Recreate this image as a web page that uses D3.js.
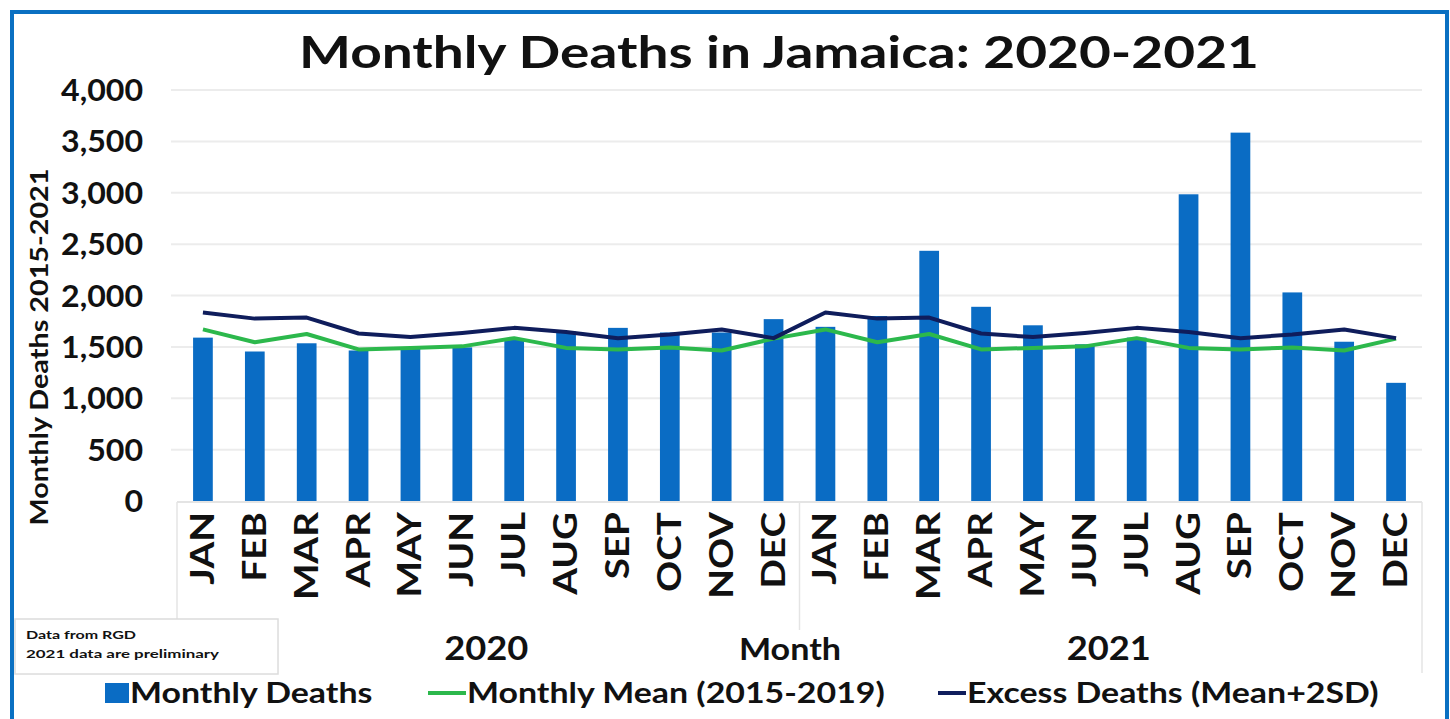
<!DOCTYPE html>
<html>
<head>
<meta charset="utf-8">
<script src="https://cdn.jsdelivr.net/npm/d3@7/dist/d3.min.js"></script>
<style>
  body { margin: 0; background: #fff; }
  svg text { font-family: Lato, "Open Sans", sans-serif; font-weight: bold; fill: #111; }
</style>
</head>
<body>
<div id="container"></div>
<script>
// months shown on the category axis (repeated for each year)
var months = ["JAN","FEB","MAR","APR","MAY","JUN","JUL","AUG","SEP","OCT","NOV","DEC"];
var years = ["2020","2021"];

// monthly deaths
var deaths2020 = [1590,1455,1535,1465,1485,1495,1575,1650,1685,1640,1640,1770];
var deaths2021 = [1695,1800,2435,1890,1710,1525,1590,2985,3585,2030,1550,1150];

// 2015-2019 baseline, same for both years
var monthlyMean = [1670,1545,1625,1475,1490,1505,1585,1490,1475,1495,1465,1580];
var excessLine  = [1835,1775,1785,1630,1595,1635,1685,1645,1585,1620,1670,1585];

var yTicks = [0,500,1000,1500,2000,2500,3000,3500,4000];

var W = 1450, H = 719;
var margin = {left: 177, right: 28, top: 90, bottom: 218};

// the source picture is a bit wide, so text gets stretched along its baseline
function stretch(sel, factor) {
    sel.each(function() {
        var len = this.getComputedTextLength();
        d3.select(this).attr("textLength", len * factor).attr("lengthAdjust", "spacingAndGlyphs");
    });
}

// build flat rows for 24 categories
var rows = [];
years.forEach(function(yr, yi) {
    var vals = yi === 0 ? deaths2020 : deaths2021;
    months.forEach(function(m, mi) {
        rows.push({key: yr + "-" + m, month: m, year: yr, deaths: vals[mi], mean: monthlyMean[mi], excess: excessLine[mi]});
    });
});

var svg = d3.select("#container").append("svg")
    .attr("width", W).attr("height", H);

// outer blue frame
svg.append("rect")
    .attr("x", 12).attr("y", 12)
    .attr("width", W - 15).attr("height", H + 20)
    .attr("fill", "none")
    .attr("stroke", "#0a70c2")
    .attr("stroke-width", 4);

var x = d3.scaleBand()
    .domain(rows.map(function(d) { return d.key; }))
    .range([margin.left, W - margin.right])
    .paddingInner(0.62)
    .paddingOuter(0.31);

var y = d3.scaleLinear()
    .domain([0, 4000])
    .range([H - margin.bottom, margin.top]);

// gridlines
svg.append("g")
    .selectAll("line")
    .data(yTicks.slice(1))
    .enter().append("line")
    .attr("x1", 171).attr("x2", W - margin.right)
    .attr("y1", function(d) { return y(d); })
    .attr("y2", function(d) { return y(d); })
    .attr("stroke", "#ececec")
    .attr("stroke-width", 2);

// y axis labels
var yAxis = d3.axisLeft(y)
    .tickValues(yTicks)
    .tickSize(0)
    .tickPadding(0)
    .tickFormat(d3.format(","));

var yg = svg.append("g")
    .attr("transform", "translate(143,0)")
    .call(yAxis);
yg.select(".domain").remove();
yg.selectAll("text")
    .style("font-family", "Lato, sans-serif")
    .style("font-weight", "bold")
    .style("font-size", "30px")
    .attr("fill", "#111")
    .attr("dy", "0.35em");
stretch(yg.selectAll("text"), 1.07);

// y axis title
svg.append("text")
    .attr("transform", "translate(48,347) rotate(-90)")
    .attr("text-anchor", "middle")
    .style("font-size", "25px")
    .text("Monthly Deaths 2015-2021")
    .call(stretch, 1.15);

// category axis box lines
var base = y(0);
var step = x.step();
svg.append("line")
    .attr("x1", margin.left).attr("x2", W - margin.right)
    .attr("y1", base + 1).attr("y2", base + 1)
    .attr("stroke", "#e4e4e4").attr("stroke-width", 2);
var seps = [
    {xp: x.range()[0], y2: 630},
    {xp: x(rows[12].key) - step * x.paddingInner() / 2, y2: 630},
    {xp: x.range()[1], y2: 673}
];
svg.append("g").selectAll("line")
    .data(seps)
    .enter().append("line")
    .attr("x1", function(d) { return d.xp; })
    .attr("x2", function(d) { return d.xp; })
    .attr("y1", base + 1)
    .attr("y2", function(d) { return d.y2; })
    .attr("stroke", "#e4e4e4").attr("stroke-width", 1.5);

// bars
svg.append("g")
    .selectAll("rect")
    .data(rows)
    .enter().append("rect")
    .attr("x", function(d) { return x(d.key); })
    .attr("y", function(d) { return y(d.deaths); })
    .attr("width", x.bandwidth())
    .attr("height", function(d) { return base - y(d.deaths); })
    .attr("fill", "#0a6cc4");

// lines
var cx = function(d) { return x(d.key) + x.bandwidth() / 2; };
var meanLine = d3.line()
    .x(cx)
    .y(function(d) { return y(d.mean); });
var excLine = d3.line()
    .x(cx)
    .y(function(d) { return y(d.excess); });

svg.append("path")
    .datum(rows)
    .attr("d", meanLine)
    .attr("fill", "none")
    .attr("stroke", "#2cb84c")
    .attr("stroke-width", 4)
    .attr("stroke-linejoin", "round");

svg.append("path")
    .datum(rows)
    .attr("d", excLine)
    .attr("fill", "none")
    .attr("stroke", "#0f1d5c")
    .attr("stroke-width", 4)
    .attr("stroke-linejoin", "round");

// month labels, rotated
svg.append("g")
    .selectAll("text")
    .data(rows)
    .enter().append("text")
    .attr("transform", function(d) { return "translate(" + (cx(d) + 11) + "," + (base + 11) + ") rotate(-90)"; })
    .attr("text-anchor", "end")
    .style("font-size", "33px")
    .text(function(d) { return d.month; })
    .call(stretch, 1.17);

// year labels + axis title
svg.append("g")
    .selectAll("text")
    .data(years)
    .enter().append("text")
    .attr("x", function(d, i) { return (x(rows[i * 12].key) + x(rows[i * 12 + 11].key) + x.bandwidth()) / 2 - 2; })
    .attr("y", 660)
    .attr("text-anchor", "middle")
    .style("font-size", "33px")
    .text(function(d) { return d; })
    .call(stretch, 1.1);

svg.append("text")
    .attr("x", 790).attr("y", 660)
    .attr("text-anchor", "middle")
    .style("font-size", "31px")
    .text("Month")
    .call(stretch, 1.1);

// title
var title = svg.append("text")
    .attr("x", 779).attr("y", 68)
    .attr("text-anchor", "middle")
    .style("font-size", "43px")
    .text("Monthly Deaths in Jamaica: 2020-2021");
title.attr("textLength", 960).attr("lengthAdjust", "spacingAndGlyphs");

// note box
svg.append("rect")
    .attr("x", 15).attr("y", 619)
    .attr("width", 263).attr("height", 55)
    .attr("fill", "#fff")
    .attr("stroke", "#dcdcdc").attr("stroke-width", 1.5);
svg.append("text")
    .attr("x", 26).attr("y", 639)
    .style("font-size", "12px")
    .attr("textLength", 110).attr("lengthAdjust", "spacingAndGlyphs")
    .text("Data from RGD");
svg.append("text")
    .attr("x", 26).attr("y", 658)
    .style("font-size", "12px")
    .attr("textLength", 193).attr("lengthAdjust", "spacingAndGlyphs")
    .text("2021 data are preliminary");

// legend
var legendItems = [
    {label: "Monthly Deaths", type: "bar", color: "#0a6cc4", x: 105, w: 24},
    {label: "Monthly Mean (2015-2019)", type: "line", color: "#2cb84c", x: 428, w: 38},
    {label: "Excess Deaths (Mean+2SD)", type: "line", color: "#0f1d5c", x: 938, w: 28}
];
var lg = svg.append("g").selectAll("g")
    .data(legendItems)
    .enter().append("g")
    .attr("transform", function(d) { return "translate(" + d.x + ",693)"; });
lg.each(function(d) {
    var g = d3.select(this);
    if (d.type === "bar") {
        g.append("rect").attr("x", 0).attr("y", -10).attr("width", d.w).attr("height", 20).attr("fill", d.color);
    } else {
        g.append("line").attr("x1", 0).attr("x2", d.w).attr("y1", 0).attr("y2", 0)
            .attr("stroke", d.color).attr("stroke-width", 4);
    }
    g.append("text")
        .attr("x", d.w + 1).attr("y", 0)
        .attr("dy", "0.35em")
        .style("font-size", "28px")
        .text(d.label)
        .call(stretch, 1.21);
});
</script>
</body>
</html>
